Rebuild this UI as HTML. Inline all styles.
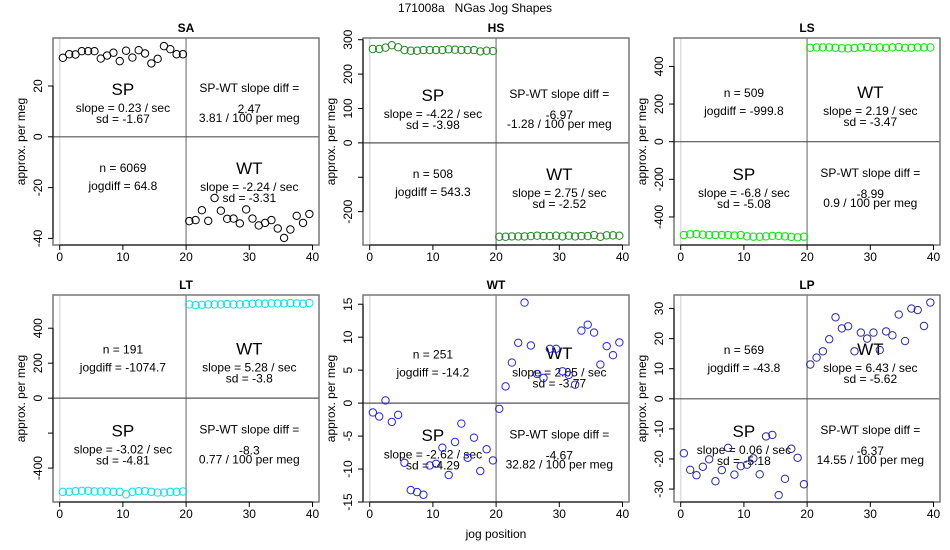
<!DOCTYPE html>
<html><head><meta charset="utf-8">
<style>
html,body{margin:0;padding:0;background:#fff;}
svg{display:block;font-family:"Liberation Sans",Arial,sans-serif;}
</style></head>
<body>
<svg id="chart" width="950" height="550" viewBox="0 0 950 550" xmlns="http://www.w3.org/2000/svg">
<text x="475" y="12" text-anchor="middle" font-size="12" fill="#000" style="white-space:pre">171008a   NGas Jog Shapes</text>
<text x="496" y="538" text-anchor="middle" font-size="12" fill="#000">jog position</text>
</svg>
<script>
const xTicks = [0, 10, 20, 30, 40];
const panelNames = ["SA", "HS", "LS", "LT", "WT", "LP"];
const panelColors = ["#000000", "#228B22", "#00EE00", "#00E5EE", "#2222FF", "#2828B0"];
const yDomains = [[-42.6, 38.9], [-297, 305], [-549, 551], [-594, 590], [-15.0, 16.4], [-34.3, 34.5]];
const yTickValues = [[-40, -20, 0, 20], [-200, -100, 0, 100, 200, 300], [-400, -200, 0, 200, 400], [-400, -200, 0, 200, 400], [-15, -10, -5, 0, 5, 10, 15], [-30, -20, -10, 0, 10, 20, 30]];
const yTickLabels = [["-40", "-20", "0", "20"], ["-200", "", "0", "100", "200", "300"], ["-400", "-200", "0", "200", "400"], ["-400", "", "0", "200", "400"], ["-15", "-10", "-5", "0", "5", "10", "15"], ["-30", "-20", "-10", "0", "10", "20", "30"]];
const xPositions = [0.5,1.5,2.5,3.5,4.5,5.5,6.5,7.5,8.5,9.5,10.5,11.5,12.5,13.5,14.5,15.5,16.5,17.5,18.5,19.5,20.5,21.5,22.5,23.5,24.5,25.5,26.5,27.5,28.5,29.5,30.5,31.5,32.5,33.5,34.5,35.5,36.5,37.5,38.5,39.5];
const saValues = [31.1,32.5,32.4,33.7,33.7,33.7,30.8,32.0,33.1,29.8,33.9,31.2,34.1,32.8,28.9,30.7,35.7,34.5,32.5,32.5,
  -33.2,-32.8,-28.9,-33.1,-24.1,-29.1,-32.3,-32.2,-34.1,-28.6,-32.2,-34.9,-33.9,-32.8,-36.1,-39.8,-36.5,-31.1,-33.9,-30.4];
const hsValues = [273,273,277,284,278,270,268,268,270,270,270,270,272,271,270,270,270,266,268,267,
  -273,-273,-272,-272,-272,-271,-270,-271,-271,-270,-272,-270,-272,-271,-271,-268,-273,-269,-269,-270];
const lsValues = [-496,-492,-491,-494,-496,-496,-496,-496,-499,-496,-503,-505,-505,-503,-501,-501,-503,-506,-508,-505,
  499,501,501,501,499,496,496,498,501,503,499,501,499,501,503,499,499,501,501,501];
const ltValues = [-536,-536,-532,-530,-530,-534,-534,-534,-536,-536,-550,-536,-532,-532,-536,-540,-540,-536,-536,-534,
  536,532,534,536,536,536,538,536,536,538,540,542,540,542,542,542,544,542,540,544];
const wtValues = [-1.42,-2.03,0.41,-2.85,-1.78,-9.05,-13.2,-13.5,-13.9,-9.46,-9.2,-6.76,-10.9,-5.9,-3.1,-8.29,-5.24,-10.3,-7.0,-8.69,
  -0.86,2.54,6.15,9.15,15.25,8.74,4.42,3.81,8.24,8.24,4.83,4.27,2.8,11.0,11.9,10.7,5.85,8.64,7.27,9.2];
const lpValues = [-18.1,-23.6,-25.4,-22.6,-20.1,-27.4,-23.7,-16.3,-25.2,-22.4,-21.9,-19.8,-25.1,-12.5,-12.0,-32.0,-26.6,-16.6,-19.6,-28.4,
  11.4,13.7,15.8,19.8,27.1,23.4,24.1,15.8,22.0,20.0,22.0,16.2,22.4,21.1,28.0,19.2,30.0,29.5,24.2,32.0];
const seriesValues = [saValues, hsValues, lsValues, ltValues, wtValues, lpValues];
const wtUp = [false, false, true, true, true, true];
const nLabels = ["n = 6069", "n = 508", "n = 509", "n = 191", "n = 251", "n = 569"];
const jogLabels = ["jogdiff = 64.8", "jogdiff = 543.3", "jogdiff = -999.8", "jogdiff = -1074.7", "jogdiff = -14.2", "jogdiff = -43.8"];
const spSlope = ["slope = 0.23 / sec", "slope = -4.22 / sec", "slope = -6.8 / sec", "slope = -3.02 / sec", "slope = -2.62 / sec", "slope = 0.06 / sec"];
const spSd = ["sd = -1.67", "sd = -3.98", "sd = -5.08", "sd = -4.81", "sd = -4.29", "sd = -5.18"];
const wtSlope = ["slope = -2.24 / sec", "slope = 2.75 / sec", "slope = 2.19 / sec", "slope = 5.28 / sec", "slope = 2.05 / sec", "slope = 6.43 / sec"];
const wtSd = ["sd = -3.31", "sd = -2.52", "sd = -3.47", "sd = -3.8", "sd = -3.77", "sd = -5.62"];
const diffVal = ["2.47", "-6.97", "-8.99", "-8.3", "-4.67", "-6.37"];
const diffPer = ["3.81 / 100 per meg", "-1.28 / 100 per meg", "0.9 / 100 per meg", "0.77 / 100 per meg", "32.82 / 100 per meg", "14.55 / 100 per meg"];

const svg = document.getElementById('chart');
const NS = 'http://www.w3.org/2000/svg';
function mk(parent, tag, attrs, text) {
  const e = document.createElementNS(NS, tag);
  for (const k in attrs) e.setAttribute(k, attrs[k]);
  if (text !== undefined) e.textContent = text;
  parent.appendChild(e);
  return e;
}
const lefts = [53, 363, 674];
const tops = [38, 295];
const W = 266, H = 207;

for (let p = 0; p < 6; p++) {
  const L = lefts[p % 3], T = tops[Math.floor(p / 3)];
  const B = T + H;
  const dom = yDomains[p];
  const xs = v => L + 6.7 + (v / 40) * 252.8;
  const ys = v => B - (v - dom[0]) / (dom[1] - dom[0]) * H;
  const g = mk(svg, 'g', {});
  
  

  const title = mk(g, 'text', {x: L + W / 2, y: T - 6, 'text-anchor': 'middle', 'font-size': 12, 'font-weight': 'bold'}, panelNames[p]);
  
  

  const v0 = mk(g, 'line', {x1: xs(0), x2: xs(0), y1: T, y2: B, stroke: '#dddddd', 'stroke-width': 1.5});
  
  
  const v20 = mk(g, 'line', {x1: xs(20), x2: xs(20), y1: T, y2: B, stroke: '#999999', 'stroke-width': 1.5});
  
  
  const h0 = mk(g, 'line', {x1: L, x2: L + W, y1: ys(0), y2: ys(0), stroke: '#555555', 'stroke-width': 1.2});
  
  

  const box = mk(g, 'rect', {x: L, y: T, width: W, height: H, fill: 'none', stroke: '#777777', 'stroke-width': 1.5});
  
  

  const xa = mk(g, 'line', {x1: xs(xTicks[0]), x2: xs(xTicks[xTicks.length - 1]), y1: B, y2: B, stroke: '#000', 'stroke-width': 1});
  
  
  xTicks.forEach(t => {
    const tk = mk(g, 'line', {x1: xs(t), x2: xs(t), y1: B, y2: B + 5, stroke: '#000'});
    
    
    const tl = mk(g, 'text', {x: xs(t), y: B + 16, 'text-anchor': 'middle', 'font-size': 12}, String(t));
    
    
  });
  const yt = yTickValues[p];
  const ya = mk(g, 'line', {x1: L, x2: L, y1: ys(yt[0]), y2: ys(yt[yt.length - 1]), stroke: '#000', 'stroke-width': 1});
  
  
  yt.forEach((t, i) => {
    const tk = mk(g, 'line', {x1: L - 5, x2: L, y1: ys(t), y2: ys(t), stroke: '#000'});
    
    
    if (yTickLabels[p][i]) {
      const lx = L - 11, ly = ys(t);
      const tl = mk(g, 'text', {x: lx, y: ly, 'text-anchor': 'middle', 'font-size': 12, transform: 'rotate(-90 ' + lx + ' ' + ly + ')'}, yTickLabels[p][i]);
      
      
    }
  });
  const ylx = L - 28, yly = T + H / 2;
  const yl = mk(g, 'text', {x: ylx, y: yly, 'text-anchor': 'middle', 'font-size': 12, transform: 'rotate(-90 ' + ylx + ' ' + yly + ')'}, 'approx. per meg');
  
  

  const z = ys(0);
  const xl = xs(10), xr = xs(30);
  function txt(x, y, s, size, name) {
    const t = mk(g, 'text', {x: x, y: y + size * 0.36, 'text-anchor': 'middle', 'font-size': size}, s);
    
    
  }
  const up = wtUp[p];
  const nBase = up ? z - 49 : z + 31;
  txt(xl, nBase, nLabels[p], 12, 'n-label');
  txt(xl, nBase + 18, jogLabels[p], 12, 'jogdiff-label');
  const spBase = up ? z + 32 : z - 48;
  txt(xl, spBase, 'SP', 17, 'sp-label');
  txt(xl, spBase + 19, spSlope[p], 12, 'sp-slope-label');
  txt(xl, spBase + 30, spSd[p], 12, 'sp-sd-label');
  const wtBase = up ? z - 50 : z + 31;
  txt(xr, wtBase, 'WT', 17, 'wt-label');
  txt(xr, wtBase + 19, wtSlope[p], 12, 'wt-slope-label');
  txt(xr, wtBase + 30, wtSd[p], 12, 'wt-sd-label');
  const dBase = up ? z + 31 : z - 49;
  txt(xr, dBase, 'SP-WT slope diff =', 12, 'slope-diff-label');
  txt(xr, dBase + 21, diffVal[p], 12, 'slope-diff-value');
  txt(xr, dBase + 30, diffPer[p], 12, 'slope-diff-per-meg');

  const vals = seriesValues[p];
  vals.forEach((v, i) => {
    const c = mk(g, 'circle', {cx: xs(xPositions[i]), cy: ys(v), r: 3.7, fill: 'none', stroke: panelColors[p], 'stroke-width': 1});
    
    
  });
}
</script>
</body></html>
